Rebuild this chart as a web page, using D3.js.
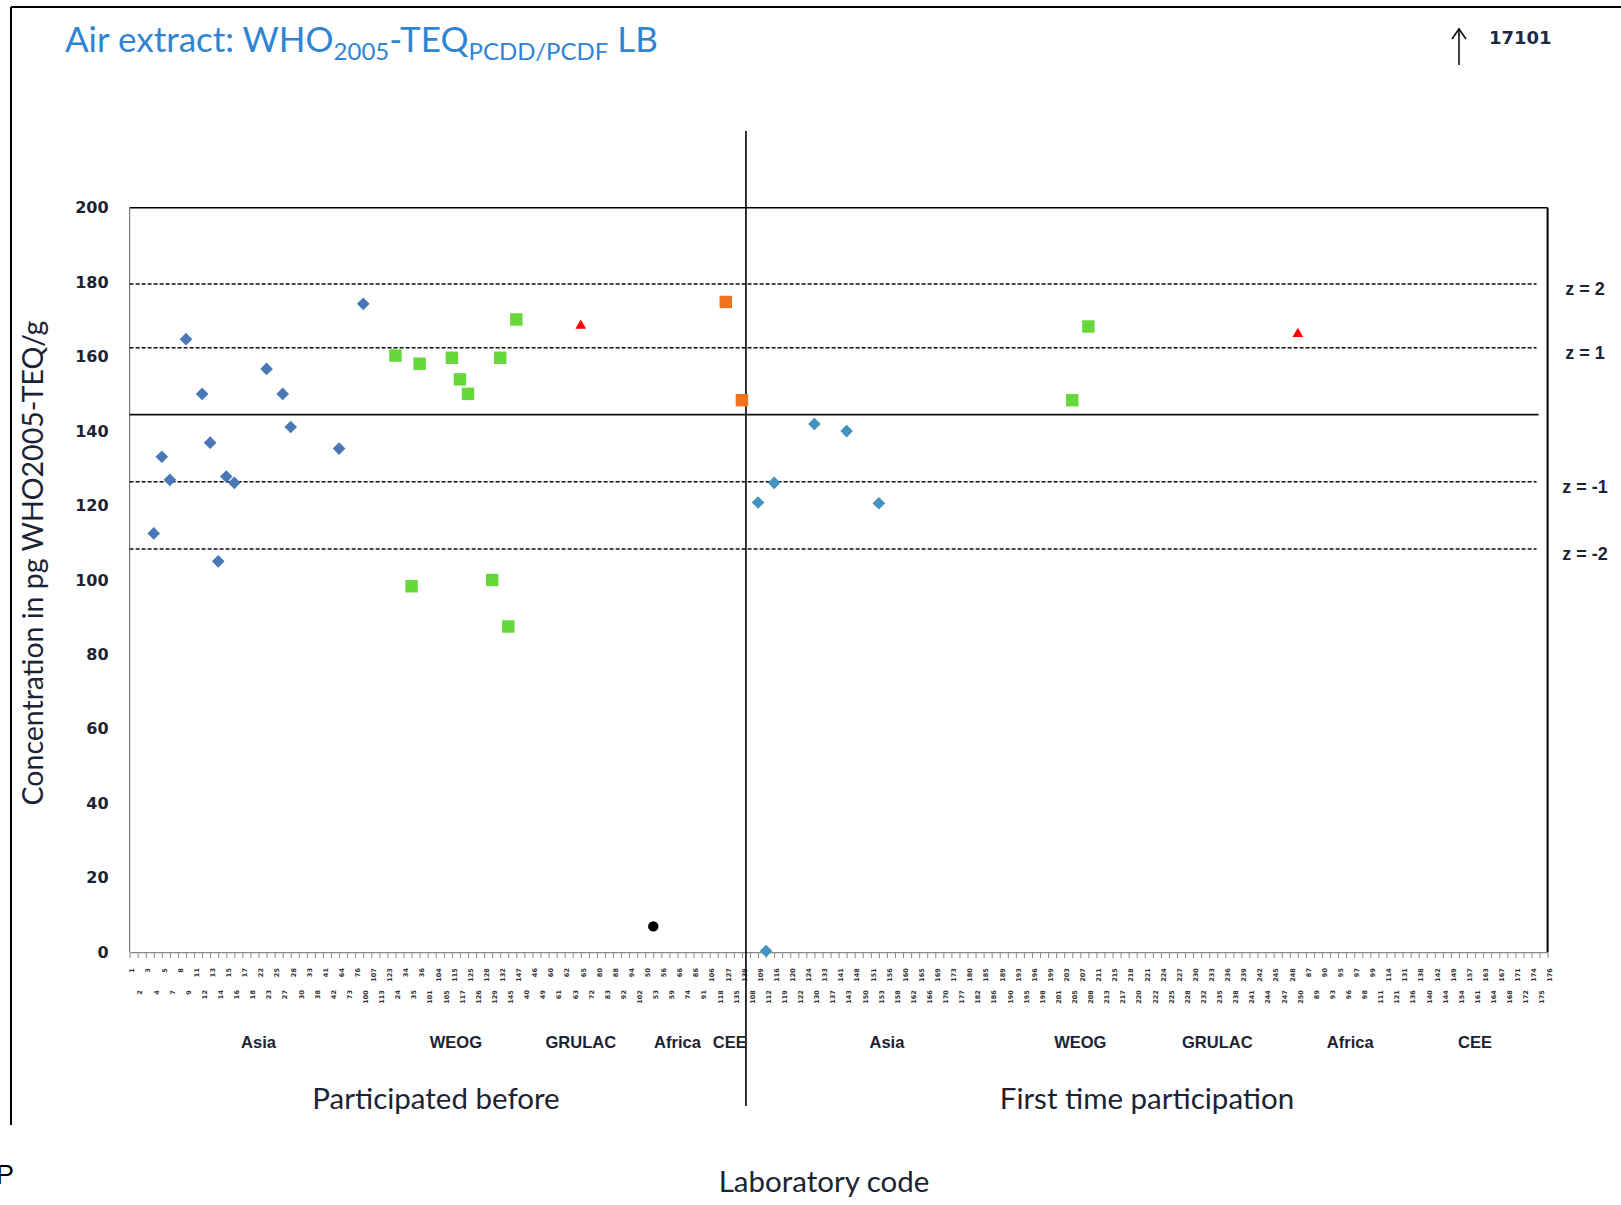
<!DOCTYPE html>
<html lang="en">
<head>
<meta charset="utf-8">
<title>Air extract: WHO2005-TEQ PCDD/PCDF LB</title>
<script src="https://cdnjs.cloudflare.com/ajax/libs/d3/7.8.5/d3.min.js"></script>
<style>
  body { margin: 0; background: #fff; }
  svg { display: block; }
</style>
</head>
<body>
<svg id="chart" width="1621" height="1205" font-family="Lato, 'Open Sans', sans-serif"></svg>
<script>
// laboratory codes in axis order, by region
var beforeAsia = [1,2,3,4,5,7,8,9,11,12,13,14,15,16,17,18,22,23,25,27,28,30,33,38,41,42,64,73,76,100,107,113,123];
var beforeWEOG = [24,34,35,36,101,104,105,115,117,125,126,128,129,132,145,147];
var beforeGRULAC = [40,46,49,60,61,62,63,65,72,80,83,88,92,94,102];
var beforeAfrica = [50,53,56,59,66,74,86,91,106];
var beforeCEE = [118,127,135,139];
var firstAsia = [108,109,112,116,119,120,122,124,130,133,137,141,143,148,150,151,153,156,158,160,162,165,166,169,170,173,177,180,182,185,186,189,190,193,195];
var firstWEOG = [196,198,199,201,203,205,207,208,211,213,215,217,218];
var firstGRULAC = [220,221,222,224,225,227,228,230,232,233,235,236,238,239,241,242,244,245,247,248,250];
var firstAfrica = [87,89,90,93,95,96,97,98,99,111,114,121];
var firstCEE = [131,136,138,140,142,144,149,154,157,161,163,164,167,168,171,172,174,175,176];

// results [lab code, pg WHO2005-TEQ/g]
var asiaBefore = [[4,112.5],[5,133.1],[7,126.9],[9,164.7],[12,150.0],[13,136.9],[14,105.0],[15,127.8],[16,126.1],[23,156.7],[27,150.0],[28,141.1],[64,135.3],[100,174.2]];
var weogBefore = [[24,160.3],[35,98.3],[36,158.1],[115,159.7],[117,153.9],[125,150.0],[129,100.0],[132,159.7],[145,87.5],[147,170.0]];
var grulacBefore = [[65,168.3]];
var africaBefore = [[53,6.9]];
var ceeBefore = [[127,174.7],[139,148.3]];
var asiaFirst = [[109,120.8],[112,0.3],[116,126.1],[130,141.9],[143,140.0],[153,120.6]];
var weogFirst = [[205,148.3],[208,168.1]];
var grulacFirst = [[250,166.1]];
var offScale = [[154,17101]];

var assigned = 144.4;
var zValues = [2, 1, -1, -2];
var zLevels = [179.5, 162.4, 126.4, 108.3];
var yTicks = [0,20,40,60,80,100,120,140,160,180,200];

var beforeRegions = [["Asia", beforeAsia], ["WEOG", beforeWEOG], ["GRULAC", beforeGRULAC], ["Africa", beforeAfrica], ["CEE", beforeCEE]];
var firstRegions = [["Asia", firstAsia], ["WEOG", firstWEOG], ["GRULAC", firstGRULAC], ["Africa", firstAfrica], ["CEE", firstCEE]];

var allLabs = [];
beforeRegions.concat(firstRegions).forEach(function (r) { allLabs = allLabs.concat(r[1]); });

var svg = d3.select("#chart");
var pL = 129.6, pR = 1547.6, pT = 207.8, pB = 952.1;
var ink = "#1c2333";

var x = d3.scalePoint().domain(allLabs.map(String)).range([pL, pR]);
var y = d3.scaleLinear().domain([0, 200]).range([pB, pT]);

// slide frame
svg.append("line").attr("x1", 11).attr("x2", 1621).attr("y1", 7).attr("y2", 7).attr("stroke", "#000").attr("stroke-width", 2);
svg.append("line").attr("x1", 11).attr("x2", 11).attr("y1", 7).attr("y2", 1125).attr("stroke", "#000").attr("stroke-width", 2);
svg.append("text").attr("x", -4).attr("y", 1184).attr("font-size", 27).attr("fill", "#000")
  .attr("font-family", "Liberation Sans").text("P");

// title
var title = svg.append("text").attr("x", 65).attr("y", 52).attr("font-size", 35).attr("fill", "#2f85d3");
title.append("tspan").text("Air extract: WHO");
title.append("tspan").attr("dy", 8).attr("font-size", 24).text("2005");
title.append("tspan").attr("dy", -8).text("-TEQ");
title.append("tspan").attr("dy", 8).attr("font-size", 24).text("PCDD/PCDF");
title.append("tspan").attr("dy", -8).text(" LB");

// plot frame
svg.append("line").attr("x1", pL).attr("x2", pR).attr("y1", pT).attr("y2", pT).attr("stroke", "#000").attr("stroke-width", 1.5);
svg.append("line").attr("x1", pR).attr("x2", pR).attr("y1", pT).attr("y2", pB).attr("stroke", "#000").attr("stroke-width", 2);
svg.append("line").attr("x1", pL).attr("x2", pL).attr("y1", pT).attr("y2", pB).attr("stroke", "#777").attr("stroke-width", 1.2);

// y axis
var yAxis = svg.append("g").attr("transform", "translate(" + pL + ",0)")
  .call(d3.axisLeft(y).tickValues(yTicks).tickSize(0).tickPadding(21));
yAxis.select(".domain").remove();
yAxis.selectAll("text").attr("font-family", "DejaVu Sans").attr("font-weight", "bold")
  .attr("font-size", 16).attr("fill", ink);

// x axis with staggered lab codes
var xAxis = svg.append("g").attr("transform", "translate(0," + pB + ")")
  .call(d3.axisBottom(x).tickSize(6).tickSizeOuter(0));
xAxis.select(".domain").attr("stroke", "#888").attr("stroke-width", 1.2);
xAxis.selectAll(".tick line").attr("stroke", "#888");
xAxis.selectAll("text")
  .attr("font-family", "DejaVu Sans").attr("font-weight", "bold").attr("font-size", 6.5).attr("fill", "#333")
  .attr("x", 0).attr("y", 0).attr("dy", "0.35em").attr("text-anchor", "end")
  .attr("transform", function (d, i) { return "translate(2," + (i % 2 ? 38 : 16) + ") rotate(-90)"; });

// assigned value and z-score lines
svg.append("line").attr("x1", pL).attr("x2", pR - 9).attr("y1", y(assigned)).attr("y2", y(assigned))
  .attr("stroke", "#111").attr("stroke-width", 1.8);
svg.selectAll(".zline").data(zLevels).enter().append("line").attr("class", "zline")
  .attr("x1", pL).attr("x2", pR - 11).attr("y1", y).attr("y2", y)
  .attr("stroke", "#111").attr("stroke-width", 1.5).attr("stroke-dasharray", "4,2");
svg.selectAll(".zlab").data(zLevels).enter().append("text").attr("class", "zlab")
  .attr("x", 1585).attr("y", function (d) { return y(d) + 5; }).attr("dy", "0.35em")
  .attr("text-anchor", "middle").attr("font-family", "Liberation Sans").attr("font-weight", "bold")
  .attr("font-size", 18).attr("fill", ink)
  .text(function (d, i) { return "z = " + zValues[i]; });

// divider between the two groups
var lastBefore = beforeCEE[beforeCEE.length - 1];
var divX = x(String(lastBefore)) + x.step() / 2;
svg.append("line").attr("x1", divX).attr("x2", divX).attr("y1", 131).attr("y2", 1106)
  .attr("stroke", "#000").attr("stroke-width", 1.6);

// markers
function plot(data, type, size, color, rot) {
  svg.append("g").selectAll("path").data(data).enter().append("path")
    .attr("d", d3.symbol().type(type).size(size))
    .attr("transform", function (d) { return "translate(" + x(String(d[0])) + "," + y(d[1]) + ") rotate(" + rot + ")"; })
    .attr("fill", color);
}
plot(asiaBefore, d3.symbolSquare, 80, "#4a78b6", 45);
plot(asiaFirst, d3.symbolSquare, 80, "#4392c0", 45);
plot(weogBefore, d3.symbolSquare, 155, "#66d83a", 0);
plot(weogFirst, d3.symbolSquare, 155, "#66d83a", 0);
plot(ceeBefore, d3.symbolSquare, 155, "#f07220", 0);
plot(grulacBefore, d3.symbolTriangle, 50, "#ff0000", 0);
plot(grulacFirst, d3.symbolTriangle, 50, "#ff0000", 0);
plot(africaBefore, d3.symbolCircle, 85, "#000", 0);

// off-scale result
offScale.forEach(function (d) {
  var ax = x(String(d[0]));
  svg.append("line").attr("x1", ax).attr("x2", ax).attr("y1", 29).attr("y2", 65).attr("stroke", "#111").attr("stroke-width", 1.6);
  svg.append("path").attr("d", "M" + (ax - 7) + ",39 L" + ax + ",29 L" + (ax + 7) + ",39")
    .attr("fill", "none").attr("stroke", "#111").attr("stroke-width", 1.6);
  svg.append("text").attr("x", ax + 30).attr("y", 44).attr("font-family", "DejaVu Sans").attr("font-weight", "bold")
    .attr("font-size", 18).attr("fill", "#1c2a44").text(d[1]);
});

// region labels
function regionLabels(regions) {
  regions.forEach(function (r) {
    var labs = r[1];
    var cx = (x(String(labs[0])) + x(String(labs[labs.length - 1]))) / 2;
    svg.append("text").attr("x", cx).attr("y", 1042).attr("dy", "0.35em").attr("text-anchor", "middle")
      .attr("font-family", "Liberation Sans").attr("font-weight", "bold").attr("font-size", 16.5)
      .attr("fill", ink).text(r[0]);
  });
}
regionLabels(beforeRegions);
regionLabels(firstRegions);

// group and axis titles
svg.append("text").attr("x", 436).attr("y", 1099).attr("dy", "0.35em").attr("text-anchor", "middle")
  .attr("font-size", 29.5).attr("fill", ink).text("Participated before");
svg.append("text").attr("x", 1147).attr("y", 1099).attr("dy", "0.35em").attr("text-anchor", "middle")
  .attr("font-size", 29.5).attr("fill", ink).text("First time participation");
svg.append("text").attr("x", 824).attr("y", 1182).attr("dy", "0.35em").attr("text-anchor", "middle")
  .attr("font-size", 29.5).attr("fill", ink).text("Laboratory code");
svg.append("text").attr("transform", "translate(33,563) rotate(-90)").attr("dy", "0.35em").attr("text-anchor", "middle")
  .attr("font-size", 28.5).attr("fill", ink).text("Concentration in pg WHO2005-TEQ/g");
</script>
</body>
</html>
